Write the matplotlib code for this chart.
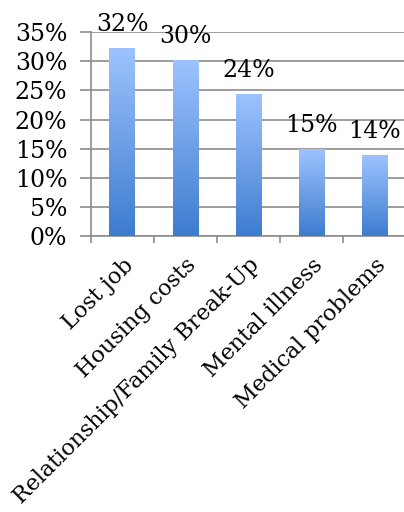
import matplotlib
matplotlib.use("Agg")
import matplotlib.pyplot as plt
import numpy as np
from matplotlib.colors import LinearSegmentedColormap
from matplotlib.ticker import MultipleLocator, FixedLocator

categories = ["Lost job", "Housing costs", "Relationship/Family Break-Up",
              "Mental illness", "Medical problems"]
values = [0.322, 0.301, 0.243, 0.148, 0.139]
labels = ["32%", "30%", "24%", "15%", "14%"]

plt.rcParams['font.family'] = ['DejaVu Serif']

fig = plt.figure(figsize=(4.04, 5.12), dpi=100)
ax = fig.add_axes([0.225, 0.539, 0.780, 0.398])

x = np.arange(len(categories))
bars = ax.bar(x, values, width=0.41, color='none', zorder=3)

# vertical gradient inside each bar: light on top, darker at the base
cmap = LinearSegmentedColormap.from_list("bar", ["#3e7ccf", "#9dc3fe"])
grad = np.linspace(0, 1, 256).reshape(-1, 1)
for b in bars:
    x0, w, h = b.get_x(), b.get_width(), b.get_height()
    ax.imshow(grad, cmap=cmap, origin='lower', aspect='auto',
              extent=[x0, x0 + w, 0, h], zorder=3)

for b, lab in zip(bars, labels):
    ax.annotate(lab, (b.get_x() + b.get_width() / 2, b.get_height()),
                xytext=(0, 9), textcoords='offset points',
                ha='center', va='bottom', fontsize=17, clip_on=False)

ax.set_xlim(-0.5, len(categories) - 0.5)
ax.set_ylim(0, 0.35)
ax.yaxis.set_major_locator(MultipleLocator(0.05))
ax.set_yticklabels([f"{int(round(t * 100))}%" for t in ax.get_yticks()])
ax.grid(axis='y', color='#8c8c8c', linewidth=1.2, zorder=0)

ax.xaxis.set_major_locator(FixedLocator(np.arange(len(categories) + 1) - 0.5))
ax.xaxis.set_minor_locator(FixedLocator(x))
ax.set_xticklabels([])
ax.set_xticklabels(categories, minor=True, rotation=45, ha='right',
                   rotation_mode='anchor', fontsize=16)
ax.tick_params(axis='x', which='minor', length=0, pad=13)
ax.tick_params(axis='x', which='major', length=5, color='#8c8c8c', width=1.2)
ax.tick_params(axis='y', length=8, color='#8c8c8c', width=1.2, labelsize=17, pad=9)

for s in ['top', 'right']:
    ax.spines[s].set_visible(False)
for s in ['left', 'bottom']:
    ax.spines[s].set_color('#8c8c8c')
    ax.spines[s].set_linewidth(1.2)

fig.savefig("out.png", dpi=100)
